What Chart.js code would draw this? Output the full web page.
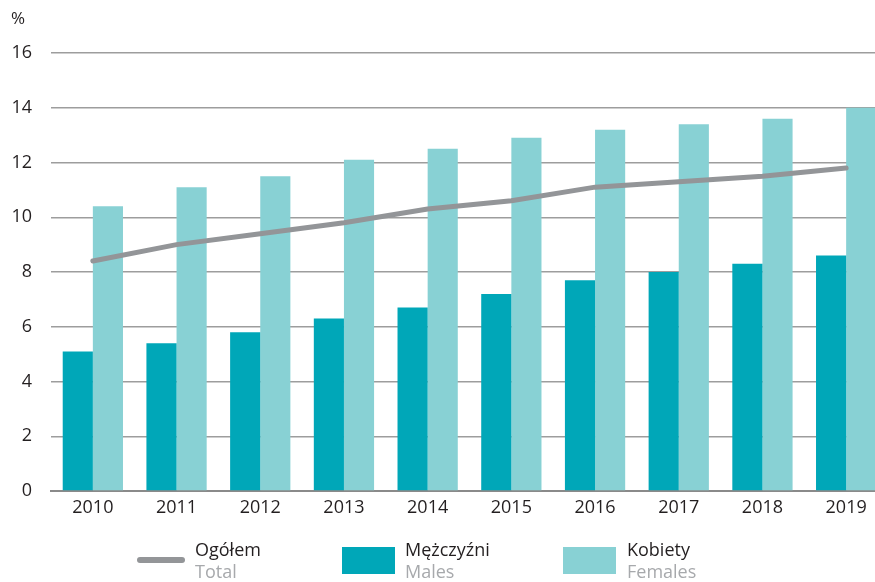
<!DOCTYPE html>
<html>
<head>
<meta charset="utf-8">
<script src="https://cdn.jsdelivr.net/npm/chart.js@4.4.1/dist/chart.umd.min.js"></script>
<style>
  html, body { margin: 0; padding: 0; width: 875px; height: 582px; overflow: hidden; background: #fff; font-family: "Open Sans", sans-serif; }
  #wrap { position: absolute; left: 0; top: 0; width: 890px; height: 582px; }
  #pct { position: absolute; left: 11px; top: 6px; font-size: 17px; color: #231f20; }
  .leg { position: absolute; font-size: 18px; line-height: 22px; }
  .leg .pl { color: #231f20; }
  .leg .en { color: #a7a9ac; }
  .sw { position: absolute; }
</style>
</head>
<body>
<div id="wrap"><canvas id="c" width="890" height="582"></canvas></div>
<div id="pct">%</div>
<div class="sw" style="left:137px; top:557px; width:48px; height:6px; border-radius:3px; background:#939598;"></div>
<div class="leg" style="left:195px; top:538px;"><div class="pl">Ogółem</div><div class="en">Total</div></div>
<div class="sw" style="left:342px; top:547px; width:53px; height:27px; background:#00a7b8;"></div>
<div class="leg" style="left:405px; top:538px;"><div class="pl">Mężczyźni</div><div class="en">Males</div></div>
<div class="sw" style="left:563px; top:547px; width:53px; height:27px; background:#88d1d4;"></div>
<div class="leg" style="left:627px; top:538px;"><div class="pl">Kobiety</div><div class="en">Females</div></div>
<script>
const years = ["2010","2011","2012","2013","2014","2015","2016","2017","2018","2019"];
const males = [5.1, 5.4, 5.8, 6.3, 6.7, 7.2, 7.7, 8.0, 8.3, 8.6];
const females = [10.4, 11.1, 11.5, 12.1, 12.5, 12.9, 13.2, 13.4, 13.6, 14.0];
const total = [8.4, 9.0, 9.4, 9.8, 10.3, 10.6, 11.1, 11.3, 11.5, 11.8];
const yTicks = [0, 2, 4, 6, 8, 10, 12, 14, 16];

new Chart(document.getElementById('c'), {
  data: {
    labels: years,
    datasets: [
      { type: 'line', label: 'Ogółem', data: total, borderColor: '#939598', borderWidth: 5,
        pointRadius: 0, tension: 0, borderCapStyle: 'round', order: 0 },
      { type: 'bar', label: 'Mężczyźni', data: males, backgroundColor: '#00a7b8',
        categoryPercentage: 0.72, barPercentage: 1.0, order: 1 },
      { type: 'bar', label: 'Kobiety', data: females, backgroundColor: '#88d1d4',
        categoryPercentage: 0.72, barPercentage: 1.0, order: 1 }
    ]
  },
  options: {
    responsive: false,
    animation: false,
    layout: { padding: { left: 0, right: 2, top: 53, bottom: 0 } },
    plugins: { legend: { display: false }, tooltip: { enabled: false } },
    scales: {
      x: {
        grid: { display: false, drawTicks: false },
        border: { display: true, color: '#8a8a8a', width: 2 },
        ticks: { color: '#231f20', font: { family: 'Open Sans', size: 18 }, padding: 6 },
        afterFit: s => { s.height = 91; }
      },
      y: {
        min: 0, max: 16,
        afterBuildTicks: s => { s.ticks = yTicks.map(v => ({ value: v })); },
        grid: { color: '#9d9d9d', lineWidth: 1.5, drawTicks: false },
        border: { display: false },
        ticks: { color: '#231f20', font: { family: 'Open Sans', size: 18 }, padding: 19 },
        afterFit: s => { s.width = 51; }
      }
    }
  }
});
</script>
</body>
</html>
